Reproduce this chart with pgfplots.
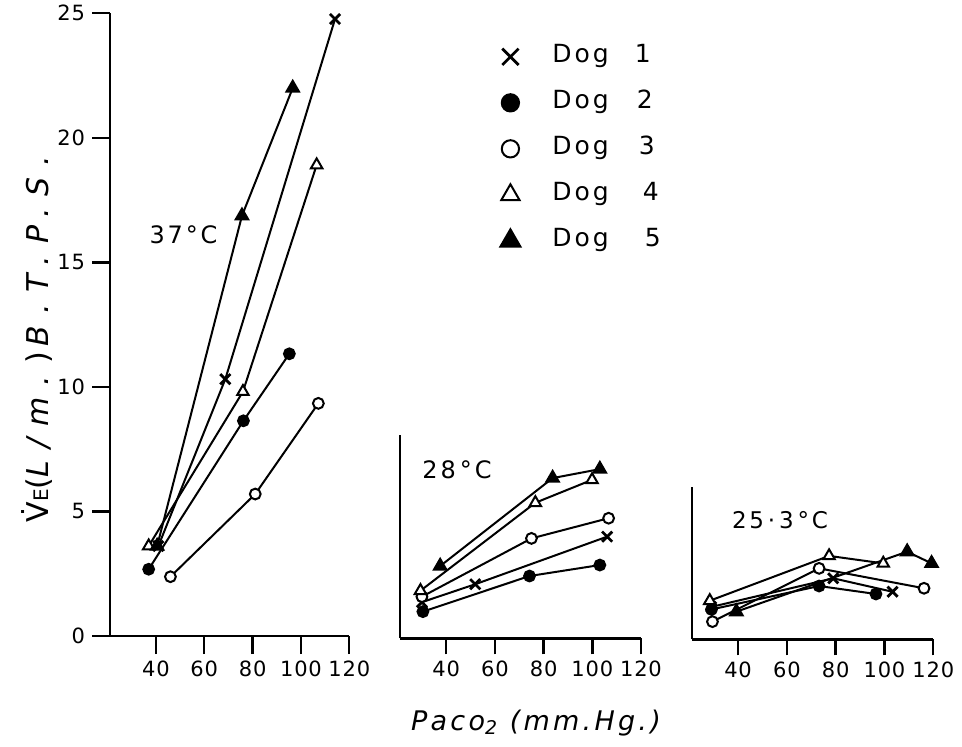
\documentclass[border=0pt]{standalone}
\usepackage{fontspec}
\setmainfont{DejaVu Sans}
\newfontfamily\spaced[LetterSpace=12]{DejaVu Sans}
\newfontfamily\tickf[LetterSpace=4]{DejaVu Sans}
\newfontfamily\wide[LetterSpace=40]{DejaVu Sans}
\usepackage{pgfplots}
\pgfplotsset{compat=1.18}

\pgfplotsset{
  panel/.style={
    scale only axis, anchor=south west,
    axis x line*=bottom, axis y line*=left,
    xmin=21, xmax=120, ymin=0,
    xtick={40,60,80,100,120},
    tick align=outside,
    major tick length=8pt,
    axis line style={line width=1.2pt},
    major tick style={line width=1.2pt, black},
    ticklabel style={font=\fontsize{10.5}{11}\tickf},
    /pgf/number format/assume math mode=true,
    clip=false,
    every axis plot/.append style={black, line width=1pt},
  },
  d1/.style={mark=x, mark size=3.6pt, mark options={line width=1.4pt}},
  d2/.style={mark=*, mark size=2.7pt},
  d3/.style={mark=*, mark size=2.7pt, mark options={fill=white, draw=black}},
  d4/.style={mark=triangle*, mark size=3.3pt, mark options={fill=white, draw=black}},
  d5/.style={mark=triangle*, mark size=3.6pt},
}

\begin{document}
\begin{tikzpicture}
\path[use as bounding box] (0,0) rectangle (481pt,-373.5pt);

% 37 C
\begin{axis}[panel,
    at={(55pt,-318pt)}, width=119.65pt, height=311.35pt,
    ymax=25, ytick={0,5,10,15,20,25},
    major tick length=9pt,
    legend image code/.code={\draw[#1] plot coordinates {(0cm,0cm)};},
    legend image post style={every mark/.append style={scale=1.6}},
    legend cell align=left,
    legend style={draw=none, fill=none, at={(axis description cs:1.63,0.95)},
      anchor=north west, font=\fontsize{12.5}{14}\spaced, inner sep=0pt,
      row sep=11pt, column sep=16pt,
      nodes={inner sep=0pt, text height=9pt, text depth=3pt}},
]
\addplot[d1] coordinates {(41,3.61) (68.7,10.31) (114.1,24.77)};
\addplot[d2] coordinates {(37.0,2.68) (76.2,8.64) (95.2,11.33)};
\addplot[d3] coordinates {(46.0,2.38) (81.1,5.70) (107.2,9.34)};
\addplot[d4] coordinates {(37.0,3.61) (76.0,9.81) (106.5,18.91)};
\addplot[d5] coordinates {(40.5,3.61) (75.6,16.87) (96.6,22.0)};
\legend{Dog\hspace{13pt}1, Dog\hspace{14pt}2, Dog\hspace{15pt}3, Dog\hspace{17pt}4, Dog\hspace{18pt}5}
\end{axis}

% 28 C
\begin{axis}[panel,
    at={(200pt,-319.15pt)}, width=120.5pt, height=101.65pt,
    ymax=8.16, ytick=\empty,
]
\addplot[d1] coordinates {(30,1.45) (51.9,2.17) (106.1,4.08)};
\addplot[d2] coordinates {(30.4,1.07) (74.2,2.5) (103.1,2.94)};
\addplot[d3] coordinates {(30,1.67) (75.0,4.01) (106.7,4.82)};
\addplot[d4] coordinates {(29.4,1.91) (76.6,5.44) (99.9,6.36)};
\addplot[d5] coordinates {(37.5,2.90) (83.7,6.43) (103.1,6.79)};
\end{axis}

% 25.3 C
\begin{axis}[panel,
    at={(345.85pt,-319.65pt)}, width=120.8pt, height=76.3pt,
    ymax=6.13, ytick=\empty,
]
\addplot[d1] coordinates {(29,1.3) (79.0,2.45) (103.3,1.91)};
\addplot[d2] coordinates {(29.1,1.2) (73.2,2.14) (96.5,1.82)};
\addplot[d3] coordinates {(29.5,0.71) (73.2,2.85) (116.2,2.05)};
\addplot[d4] coordinates {(28.4,1.55) (77.3,3.35) (99.5,3.05)};
\addplot[d5] coordinates {(39.3,1.11) (109.3,3.52) (119.3,3.05)};
\end{axis}

\node[font=\fontsize{12}{14}\spaced] at (91.75pt,-117.5pt) {37°C};
\node[font=\fontsize{12}{14}\spaced] at (228.5pt,-235pt) {28\,°C};
\node[font=\fontsize{11.5}{14}\spaced] at (390pt,-260pt) {25\,·\,3\,°C};

\node[rotate=90, font=\fontsize{15}{17}\wide] at (18.5pt,-166.5pt)
  {\.{V}{\fontsize{10}{10}\selectfont E}(\textit{L/m.})\kern3pt\textit{B.T.P.S.}};
\node[font=\fontsize{13.5}{16}\spaced\itshape] at (268pt,-361.5pt)
  {Paco\textsubscript{2} (mm.Hg.)};
\end{tikzpicture}
\end{document}
